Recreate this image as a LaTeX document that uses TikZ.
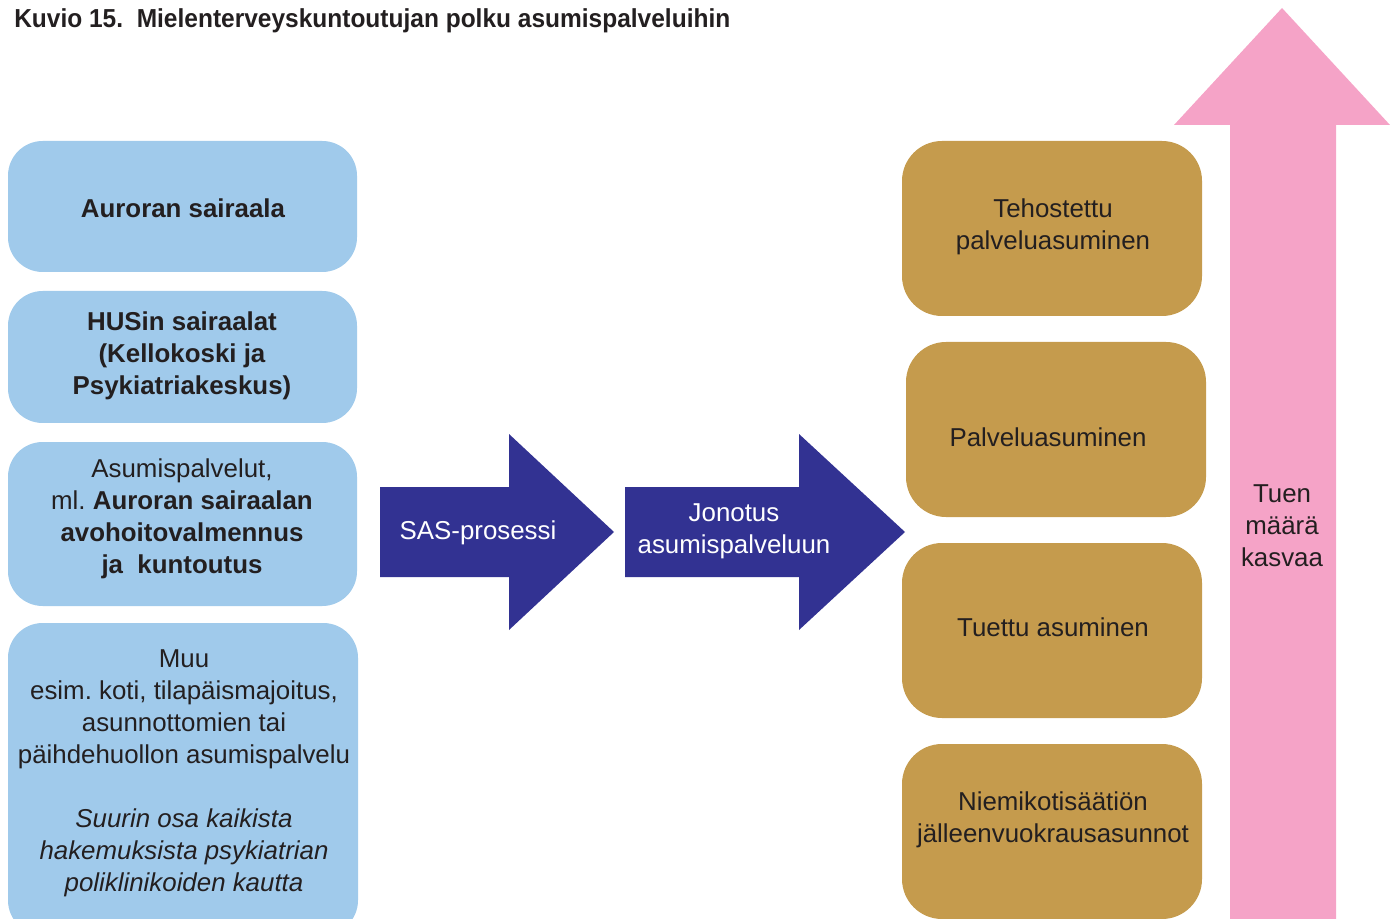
\documentclass[tikz,border=0pt]{standalone}
\usepackage{fontspec}
\setmainfont{Liberation Sans}
\usepackage{graphicx}
\definecolor{boxblue}{HTML}{A0CAEB}
\definecolor{boxtan}{HTML}{C59B4D}
\definecolor{navy}{HTML}{323292}
\definecolor{pinkarrow}{HTML}{F5A3C7}
\definecolor{txt}{HTML}{231F20}
\tikzset{
  bluebox/.style={fill=boxblue, draw=none, rounded corners=26pt},
  tanbox/.style={fill=boxtan, draw=none, rounded corners=30pt},
  lbl/.style={text=txt, align=center, font=\fontsize{19.4}{24}\selectfont, inner sep=0pt},
  wlbl/.style={text=white, align=center, font=\fontsize{19.4}{24}\selectfont, inner sep=0pt},
}
\begin{document}
\begin{tikzpicture}[x=0.75pt,y=-0.75pt]
\useasboundingbox (0,0) rectangle (1398,919);
\clip (0,0) rectangle (1398,919);
% title
\node[anchor=base west, inner sep=0pt, text=txt, font=\fontsize{19.5}{22}\selectfont\bfseries] (title) at (14,28)
  {\resizebox{537pt}{\height}{Kuvio 15.\ \ Mielenterveyskuntoutujan polku asumispalveluihin}};
% left blue boxes
\fill[bluebox] (8,141) rectangle (357,272);
\fill[bluebox] (8,291) rectangle (357,423);
\fill[bluebox] (8,442) rectangle (357,606);
\fill[bluebox] (8,623) rectangle (358,935);
\node[lbl, font=\fontsize{19.4}{24}\selectfont\bfseries] (b1) at (183,208) {Auroran sairaala};
\node[lbl, font=\fontsize{19.4}{24}\selectfont\bfseries] (b2) at (182,356) {HUSin sairaalat\\(Kellokoski ja\\Psykiatriakeskus)};
\node[lbl] (b3) at (182,519) {Asumispalvelut,\\ml.\ \textbf{Auroran sairaalan}\\\textbf{avohoitovalmennus}\\\textbf{ja\ \ kuntoutus}};
\node[lbl] (b4) at (184,773) {Muu\\esim.\ koti, tilapäismajoitus,\\asunnottomien tai\\päihdehuollon asumispalvelu\\[24pt]\itshape Suurin osa kaikista\\\itshape hakemuksista psykiatrian\\\itshape poliklinikoiden kautta};
% navy arrows
\fill[navy] (380,487) -- (509,487) -- (509,434) -- (614,532) -- (509,630) -- (509,577) -- (380,577) -- cycle;
\fill[navy] (625,487) -- (799,487) -- (799,434) -- (905,532) -- (799,630) -- (799,577) -- (625,577) -- cycle;
\node[wlbl] (sas) at (478,533) {SAS-prosessi};
\node[wlbl] (jon) at (734,531) {Jonotus\\asumispalveluun};
% tan boxes
\fill[tanbox] (902,141) rectangle (1202,316);
\fill[tanbox] (906,342) rectangle (1206,517);
\fill[tanbox] (902,543) rectangle (1202,718);
\fill[tanbox] (902,744) rectangle (1202,919);
\node[lbl] (t1) at (1053,227) {Tehostettu\\palveluasuminen};
\node[lbl] (t2) at (1048,437) {Palveluasuminen};
\node[lbl] (t3) at (1053,627) {Tuettu asuminen};
\node[lbl] (t4) at (1053,820) {Niemikotisäätiön\\jälleenvuokrausasunnot};
% pink arrow
\fill[pinkarrow] (1230,930) -- (1230,125) -- (1174,125) -- (1282,8) -- (1390,125) -- (1336,125) -- (1336,930) -- cycle;
\node[lbl] (tuen) at (1282,526) {Tuen\\määrä\\kasvaa};
\end{tikzpicture}
\end{document}
